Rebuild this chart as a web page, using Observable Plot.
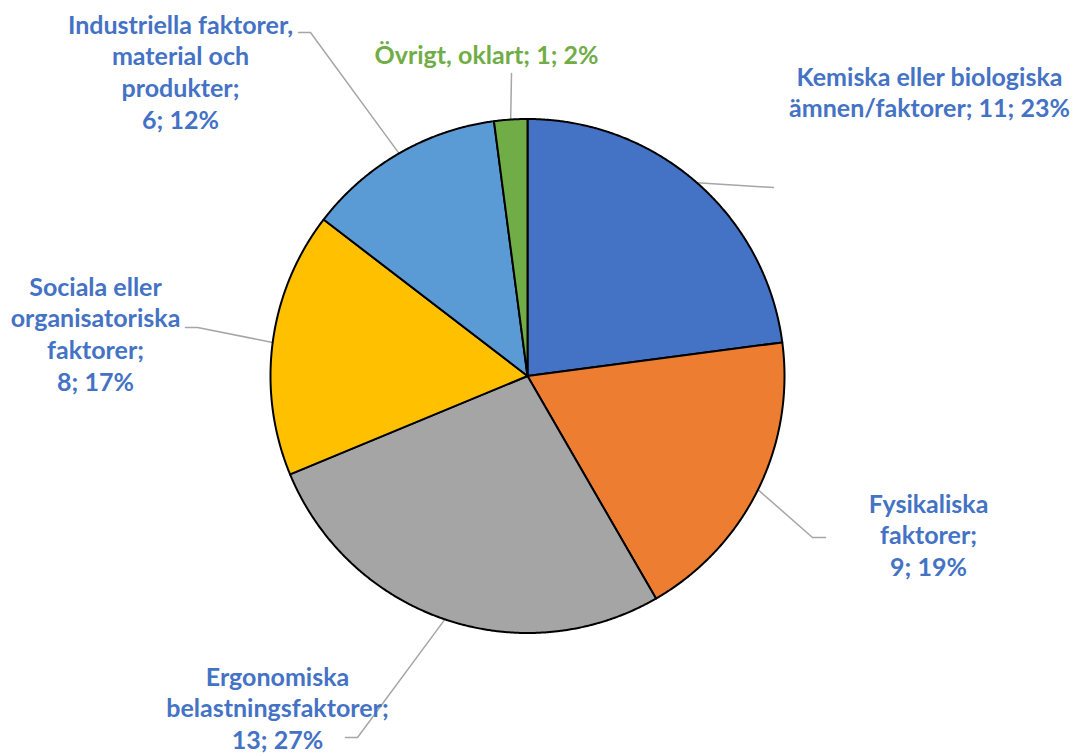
<!DOCTYPE html>
<html><head><meta charset="utf-8">
<script src="https://cdn.jsdelivr.net/npm/d3@7"></script>
<script src="https://cdn.jsdelivr.net/npm/@observablehq/plot@0.6"></script>
<style>body{margin:0;background:#fff} #chart{width:1075px;height:756px}</style>
</head><body><div id="chart"></div>
<script>
// ---- data ----
const categories = [
  "Kemiska eller biologiska ämnen/faktorer",
  "Fysikaliska faktorer",
  "Ergonomiska belastningsfaktorer",
  "Sociala eller organisatoriska faktorer",
  "Industriella faktorer, material och produkter",
  "Övrigt, oklart"
];
const counts = [11, 9, 13, 8, 6, 1];
const percents = ["23%", "19%", "27%", "17%", "12%", "2%"];
const labelTexts = [
  "Kemiska eller biologiska\nämnen/faktorer; 11; 23%",
  "Fysikaliska\nfaktorer;\n9; 19%",
  "Ergonomiska\nbelastningsfaktorer;\n13; 27%",
  "Sociala eller\norganisatoriska\nfaktorer;\n8; 17%",
  "Industriella faktorer,\nmaterial och\nprodukter;\n6; 12%",
  "Övrigt, oklart; 1; 2%"
];

// ---- style / layout ----
const sliceColors = ["#4472C4", "#ED7D31", "#A5A5A5", "#FFC000", "#5B9BD5", "#70AD47"];
const labelColors = ["#4472C4", "#4472C4", "#4472C4", "#4472C4", "#4472C4", "#70AD47"];
const W = 1075, H = 756;
const CX = 527, CY = 375.5, R = 257;           // pie centre/radius in pixels
const FS = 25, LH = 1.27;                        // font size, line height (em)
// label anchor (centre x, first baseline y) and leader elbow points, pixels
const labelPos = [[929, 85], [928, 512], [277, 685], [95, 295], [180, 33], [486, 63]];
const leaderPts = [
  [[773, 187]],
  [[812, 537], [825, 537]],
  [[357, 737], [345, 737]],
  [[197, 327], [185, 327]],
  [[310, 32], [298, 32]],
  [[511, 73]]
];
const ux = px => (px - CX) / R;
const uy = py => (CY - py) / R;

// ---- build marks ----
const arcs = d3.pie().sort(null).value(d => d)(counts);
const slicePts = [];
arcs.forEach((a, i) => {
  const cat = categories[i];
  slicePts.push({cat, x: 0, y: 0});
  const n = Math.max(2, Math.ceil((a.endAngle - a.startAngle) / 0.005));
  for (let k = 0; k <= n; k++) {
    const t = a.startAngle + (a.endAngle - a.startAngle) * k / n;
    slicePts.push({cat, x: Math.sin(t), y: Math.cos(t)});
  }
  slicePts.push({cat, x: 0, y: 0});
});

const leaders = [];
arcs.forEach((a, i) => {
  const m = (a.startAngle + a.endAngle) / 2;
  leaders.push({id: i, x: Math.sin(m), y: Math.cos(m)});
  leaderPts[i].forEach(([px, py]) => leaders.push({id: i, x: ux(px), y: uy(py)}));
});

const labels = labelTexts.map((t, i) => ({
  text: t,
  color: labelColors[i],
  x: ux(labelPos[i][0]),
  y: uy(labelPos[i][1] - 0.71 * LH * FS)
}));

const chart = Plot.plot({
  width: W, height: H,
  margin: 0,
  style: {background: "#fff"},
  x: {domain: [ux(0), ux(W)], range: [0, W], axis: null},
  y: {domain: [uy(H), uy(0)], range: [H, 0], axis: null},
  color: {domain: categories, range: sliceColors},
  marks: [
    Plot.line(leaders, {x: "x", y: "y", z: "id", stroke: "#A6A6A6", strokeWidth: 1.5, curve: "linear"}),
    Plot.line(slicePts, {x: "x", y: "y", z: "cat", fill: "cat", stroke: "#000", strokeWidth: 2, strokeLinejoin: "round", curve: "linear"}),
    Plot.text(labels, {
      x: "x", y: "y", text: "text", fill: "color",
      fontSize: FS, fontWeight: "bold", fontFamily: "Lato",
      lineHeight: LH, lineAnchor: "top", textAnchor: "middle"
    })
  ]
});
document.getElementById("chart").appendChild(chart);
</script>
</body></html>
